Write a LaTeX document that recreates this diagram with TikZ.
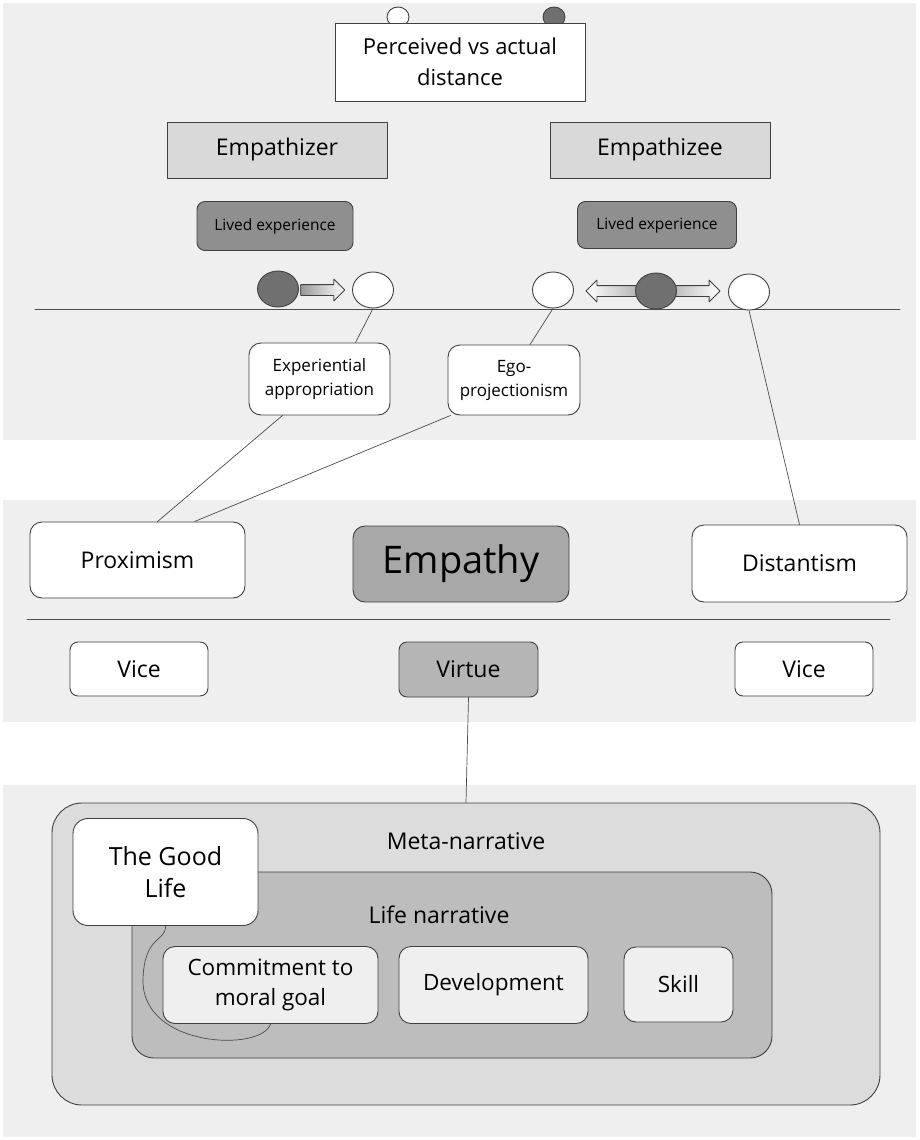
\documentclass[tikz,border=0pt]{standalone}
\usepackage{fontspec}
\setmainfont{Open Sans}
\usetikzlibrary{shapes.geometric}
\usetikzlibrary{shapes.arrows}
\definecolor{bandgray}{HTML}{EFEFEF}
\definecolor{pale}{HTML}{D9D9D9}
\definecolor{dark}{HTML}{8F8F8F}
\definecolor{ballgray}{HTML}{707070}
\definecolor{mid}{HTML}{A8A8A8}
\definecolor{virt}{HTML}{B5B5B5}
\definecolor{metagray}{HTML}{DCDCDC}
\definecolor{lifegray}{HTML}{BDBDBD}
\definecolor{light}{HTML}{EFEFEF}
\newcommand{\band}[2]{
  \fill[bandgray] (3, #1) rectangle (916, #2);}
\newcommand{\fsz}[2]{\fontsize{#1}{#2}\selectfont}

\begin{document}
\begin{tikzpicture}[x = 1pt, y = -1pt, line cap = round, line join = round,
  box/.style = {draw = black!75, line width = 0.9pt, align = center,
    inner sep = 0pt, font = \fsz{23}{29}},
  ball/.style = {ellipse, draw = black!75, line width = 0.9pt,
    minimum width = 41pt, minimum height = 36pt, inner sep = 0pt},
  link/.style = {draw = black!70, line width = 0.7pt}]
  \useasboundingbox (0, 0) rectangle (919, 1140);

  % background bands
  \band{3}{440}
  \band{500}{722}
  \band{785}{1137}

  % pins and title
  \node[ball, fill = white, minimum width = 22pt, minimum height = 20pt]
    (pinA) at (398, 17) {};
  \node[ball, fill = ballgray, minimum width = 22pt, minimum height = 20pt]
    (pinB) at (554, 17) {};
  \node[box, fill = white, minimum width = 250pt, minimum height = 78pt,
    font = \fsz{22}{31}] (perceived) at (460, 62) {Perceived vs actual\\distance};

  \node[box, fill = pale, minimum width = 220pt, minimum height = 56pt]
    (empathizer) at (277, 150) {Empathizer};
  \node[box, fill = pale, minimum width = 220pt, minimum height = 56pt]
    (empathizee) at (660, 150) {Empathizee};

  \node[box, fill = dark, rounded corners = 8pt, minimum width = 156pt,
    minimum height = 49pt, font = \fsz{15.5}{19}] (livedA) at (275, 226)
    {Lived experience};
  \node[box, fill = dark, rounded corners = 8pt, minimum width = 159pt,
    minimum height = 47pt, font = \fsz{15.5}{19}] (livedB) at (657, 225)
    {Lived experience};

  \draw[link] (35, 309) -- (900, 309);

  % distance markers
  \node[single arrow, draw = black!75, line width = 0.8pt, inner sep = 5pt,
    single arrow head extend = 5.5pt, minimum height = 44pt,
    left color = gray!80, right color = white] (arrowA) at (320, 290) {};
  \node[double arrow, draw = black!75, line width = 0.8pt, inner sep = 5pt,
    double arrow head extend = 5.5pt, minimum height = 134pt,
    left color = white, right color = white, middle color = gray!75]
    (arrowB) at (653, 291) {};
  \node[ball, fill = ballgray] (selfA) at (278, 289) {};
  \node[ball, fill = white] (otherA) at (373, 290) {};
  \node[ball, fill = white] (otherB) at (553, 290) {};
  \node[ball, fill = ballgray] (selfB) at (656, 291) {};
  \node[ball, fill = white] (otherC) at (749, 292) {};

  \node[box, fill = white, rounded corners = 12pt, minimum width = 141pt,
    minimum height = 72pt, font = \fsz{17}{24}] (exp) at (319.5, 379)
    {Experiential\\appropriation};
  \node[box, fill = white, rounded corners = 12pt, minimum width = 132pt,
    minimum height = 70pt, font = \fsz{17}{24}] (ego) at (514, 380)
    {Ego-\\projectionism};

  % middle row
  \node[box, fill = white, rounded corners = 12pt, minimum width = 215pt,
    minimum height = 76pt] (proximism) at (137.5, 560) {Proximism};
  \node[box, fill = mid, rounded corners = 12pt, minimum width = 216pt,
    minimum height = 76pt, font = \fsz{38}{46}] (empathy) at (461, 564)
    {Empathy};
  \node[box, fill = white, rounded corners = 12pt, minimum width = 215pt,
    minimum height = 77pt] (distantism) at (799.5, 563.5) {Distantism};

  \draw[link] (otherA.south) -- ([xshift = 36pt]exp.north);
  \draw[link] (otherB.south) -- ([xshift = 16pt]ego.north);
  \draw[link] (otherC.south) -- (distantism.north);
  \draw[link] ([xshift = -37pt]exp.south) -- ([xshift = 20pt]proximism.north);
  \draw[link] ([xshift = 3pt]ego.south west) -- ([xshift = 57pt]proximism.north);

  \draw[link] (27, 619) -- (890, 619);

  \node[box, fill = white, rounded corners = 8pt, minimum width = 138pt,
    minimum height = 54pt] (viceA) at (139, 669) {Vice};
  \node[box, fill = virt, rounded corners = 8pt, minimum width = 139pt,
    minimum height = 55pt] (virtue) at (468.5, 669.5) {Virtue};
  \node[box, fill = white, rounded corners = 8pt, minimum width = 138pt,
    minimum height = 54pt] (viceB) at (804, 669) {Vice};

  % narratives
  \node[box, fill = metagray, rounded corners = 30pt, minimum width = 828pt,
    minimum height = 302pt] (meta) at (466, 954) {};
  \node[font = \fsz{23}{29}] (metalabel) at (466, 841) {Meta-narrative};
  \node[box, fill = lifegray, rounded corners = 22pt, minimum width = 640pt,
    minimum height = 186pt] (life) at (452, 965) {};
  \node[font = \fsz{23}{29}] (lifelabel) at (439, 915) {Life narrative};

  \draw[link] (virtue.south) -- (meta.north);

  \node[box, fill = white, rounded corners = 15pt, minimum width = 185pt,
    minimum height = 107pt, font = \fsz{25}{32}] (goodlife) at (165.5, 872)
    {The Good\\Life};
  \node[box, fill = light, rounded corners = 12pt, minimum width = 215pt,
    minimum height = 77pt, font = \fsz{22.5}{30}] (commit) at (270.5, 985)
    {Commitment to\\moral goal};
  \node[box, fill = light, rounded corners = 12pt, minimum width = 189pt,
    minimum height = 77pt, font = \fsz{22.5}{30}] (develop) at (493.5, 985)
    {Development};
  \node[box, fill = light, rounded corners = 12pt, minimum width = 109pt,
    minimum height = 75pt, font = \fsz{22.5}{30}] (skill) at (678.5, 984.5)
    {Skill};

  \draw[link] (goodlife.south) .. controls (166, 942) and (144, 935) ..
    (143, 980) .. controls (142, 1048) and (262, 1052) .. (commit.south);
\end{tikzpicture}
\end{document}
